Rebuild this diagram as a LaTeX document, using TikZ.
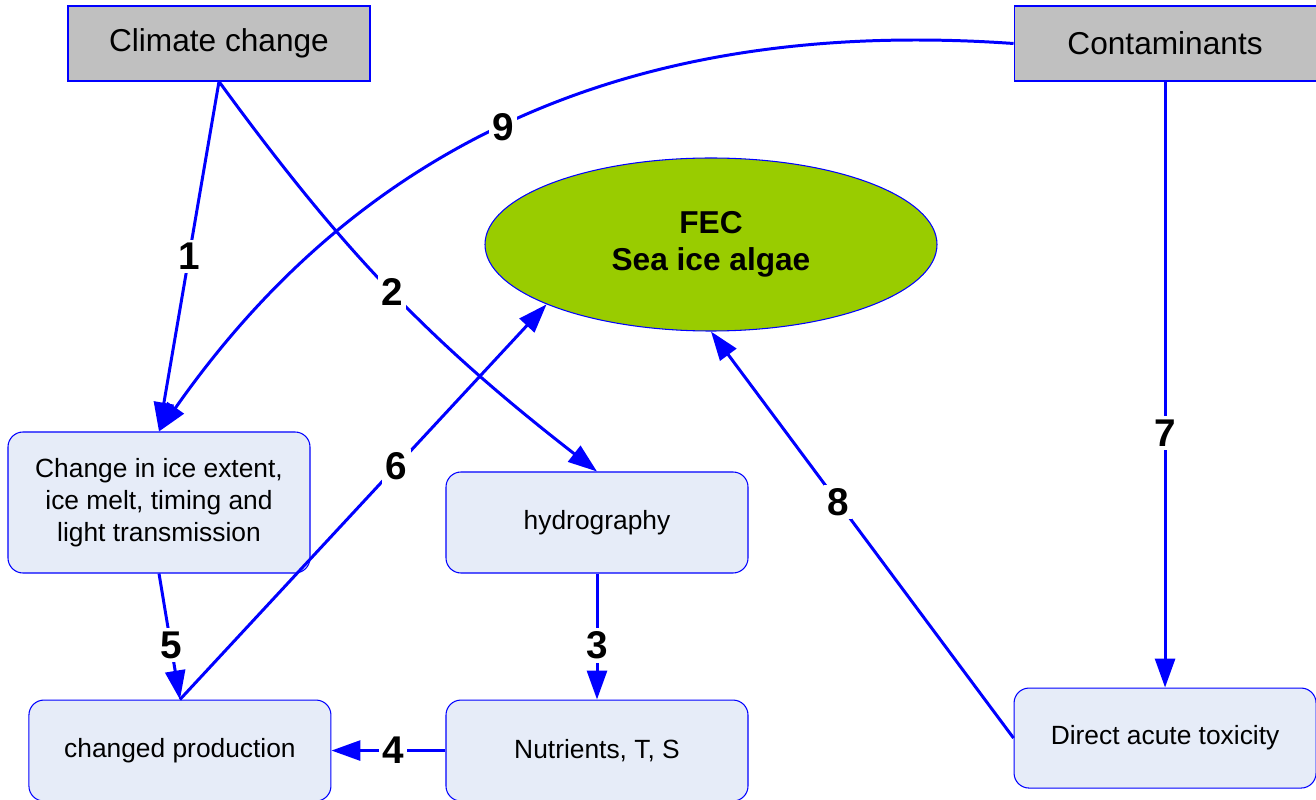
\documentclass[tikz,border=0pt]{standalone}
\usepackage{fontspec}
\setmainfont{Liberation Sans}
\usetikzlibrary{
  shapes.geometric,
  arrows.meta,
  positioning,
}
\definecolor{boxfill}{RGB}{230,236,248}
\definecolor{drivergray}{RGB}{192,192,192}
\definecolor{algaegreen}{RGB}{153,204,0}
\tikzset{
  driver/.style={
    rectangle,
    minimum width=6.04cm,
    minimum height=1.5cm,
    text centered,
    draw=blue,
    line width=0.6pt,
    fill=drivergray,
    font=\fontsize{18}{22}\selectfont
  },
  effect/.style={
    rectangle,
    rounded corners=0.3cm,
    minimum width=6.04cm,
    minimum height=2.02cm,
    align=center,
    draw=blue,
    line width=0.6pt,
    fill=boxfill,
    font=\fontsize{15}{18.2}\selectfont
  },
  target/.style={
    ellipse,
    minimum width=9.04cm,
    minimum height=3.46cm,
    align=center,
    draw=blue,
    line width=0.6pt,
    fill=algaegreen,
    font=\fontsize{18}{21}\selectfont\bfseries
  },
  arrow/.style={
    blue,
    line width=1.7pt,
    -{Triangle[length=0.58cm, width=0.4cm]},
  },
  num/.style={
    fill=white,
    text=black,
    inner sep=2pt,
    font=\fontsize{22}{26}\selectfont\bfseries
  },
}

\begin{document}
\begin{tikzpicture}[node distance=1cm]

  \useasboundingbox (0,0) rectangle (26.32,-16);

  \node[driver] (climate) at (4.38,-0.87) {Climate change};
  \node[driver, right=12.86cm of climate] (contam) {Contaminants};

  \node[target] (algae) at (14.22,-4.89) {FEC\\Sea ice algae};

  \node[effect, minimum height=2.82cm] (ice) at (3.18,-10.05) {Change in ice extent,\\ice melt, timing and\\light transmission};
  \node[effect] (hydro) at (11.94,-10.45) {hydrography};
  \node[effect, below=2.52cm of hydro] (nutri) {Nutrients, T, S};
  \node[effect, left=2.28cm of nutri] (prod) {changed production};
  \node[effect, minimum height=2cm, below=12.12cm of contam] (toxic) {Direct acute toxicity};

  \draw[arrow] (climate.south) -- node[num] {1} (ice.north);
  \draw[arrow] (climate.south) to[bend right=8] node[num] {2} (hydro.north);
  \draw[arrow] (hydro) -- node[num, pos=0.57] {3} (nutri);
  \draw[arrow] (nutri) -- node[num, pos=0.46] {4} (prod);
  \draw[arrow] (ice.south) -- node[num, pos=0.57] {5} (prod.north);
  \draw[arrow] (prod.north) -- node[num, pos=0.59] {6} (algae.200);
  \draw[arrow] (contam) -- node[num, pos=0.58] {7} (toxic);
  \draw[arrow] (toxic.west) -- node[num, pos=0.58] {8} (algae.south);
  \draw[arrow] (contam.west) to[out=176, in=55] node[num, pos=0.53] {9} (ice.north);

\end{tikzpicture}
\end{document}
